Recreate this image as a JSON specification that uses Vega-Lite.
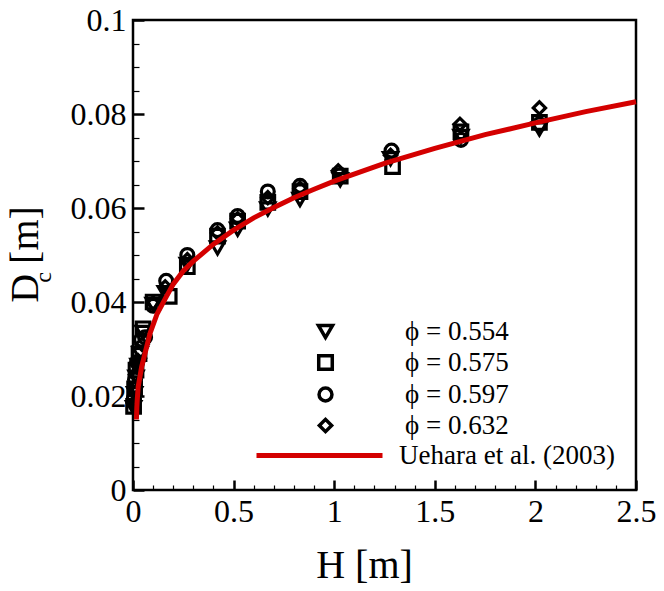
{
  "$schema": "https://vega.github.io/schema/vega-lite/v6.json",
  "width": 503,
  "height": 470,
  "autosize": {"type": "none"},
  "padding": {"left": 133, "top": 20, "right": 28, "bottom": 101},
  "background": "white",
  "config": {
    "font": "Liberation Serif",
    "view": {"stroke": "black", "strokeWidth": 2.5},
    "axis": {
      "labelFont": "Liberation Serif", "titleFont": "Liberation Serif",
      "labelColor": "black", "titleColor": "black",
      "labelFontWeight": "normal", "titleFontWeight": "normal",
      "grid": false, "domain": false, "tickColor": "black", "zindex": 2
    },
    "legend": {"labelFont": "Liberation Serif", "labelFontSize": 27, "labelColor": "black", "labelLimit": 0, "padding": 0}
  },
  "datasets": {
    "pts": [
      {"H": 0.003, "D": 0.0175, "phi": "ϕ = 0.554"},
      {"H": 0.008, "D": 0.0205, "phi": "ϕ = 0.554"},
      {"H": 0.015, "D": 0.024, "phi": "ϕ = 0.554"},
      {"H": 0.025, "D": 0.0265, "phi": "ϕ = 0.554"},
      {"H": 0.035, "D": 0.029, "phi": "ϕ = 0.554"},
      {"H": 0.05, "D": 0.0335, "phi": "ϕ = 0.554"},
      {"H": 0.1, "D": 0.0395, "phi": "ϕ = 0.554"},
      {"H": 0.16, "D": 0.042, "phi": "ϕ = 0.554"},
      {"H": 0.27, "D": 0.048, "phi": "ϕ = 0.554"},
      {"H": 0.42, "D": 0.0515, "phi": "ϕ = 0.554"},
      {"H": 0.52, "D": 0.0555, "phi": "ϕ = 0.554"},
      {"H": 0.67, "D": 0.0598, "phi": "ϕ = 0.554"},
      {"H": 0.83, "D": 0.0618, "phi": "ϕ = 0.554"},
      {"H": 1.03, "D": 0.066, "phi": "ϕ = 0.554"},
      {"H": 1.28, "D": 0.0705, "phi": "ϕ = 0.554"},
      {"H": 1.63, "D": 0.0752, "phi": "ϕ = 0.554"},
      {"H": 2.02, "D": 0.0768, "phi": "ϕ = 0.554"},
      {"H": 0.003, "D": 0.0178, "phi": "ϕ = 0.575"},
      {"H": 0.008, "D": 0.0215, "phi": "ϕ = 0.575"},
      {"H": 0.015, "D": 0.0255, "phi": "ϕ = 0.575"},
      {"H": 0.03, "D": 0.029, "phi": "ϕ = 0.575"},
      {"H": 0.05, "D": 0.0343, "phi": "ϕ = 0.575"},
      {"H": 0.1, "D": 0.04, "phi": "ϕ = 0.575"},
      {"H": 0.18, "D": 0.0412, "phi": "ϕ = 0.575"},
      {"H": 0.27, "D": 0.0475, "phi": "ϕ = 0.575"},
      {"H": 0.42, "D": 0.054, "phi": "ϕ = 0.575"},
      {"H": 0.52, "D": 0.0572, "phi": "ϕ = 0.575"},
      {"H": 0.67, "D": 0.0612, "phi": "ϕ = 0.575"},
      {"H": 0.83, "D": 0.0635, "phi": "ϕ = 0.575"},
      {"H": 1.03, "D": 0.0668, "phi": "ϕ = 0.575"},
      {"H": 1.29, "D": 0.0688, "phi": "ϕ = 0.575"},
      {"H": 1.63, "D": 0.0762, "phi": "ϕ = 0.575"},
      {"H": 2.02, "D": 0.0782, "phi": "ϕ = 0.575"},
      {"H": 0.004, "D": 0.0195, "phi": "ϕ = 0.597"},
      {"H": 0.01, "D": 0.0235, "phi": "ϕ = 0.597"},
      {"H": 0.02, "D": 0.0272, "phi": "ϕ = 0.597"},
      {"H": 0.04, "D": 0.032, "phi": "ϕ = 0.597"},
      {"H": 0.06, "D": 0.0325, "phi": "ϕ = 0.597"},
      {"H": 0.1, "D": 0.0392, "phi": "ϕ = 0.597"},
      {"H": 0.165, "D": 0.0445, "phi": "ϕ = 0.597"},
      {"H": 0.27, "D": 0.05, "phi": "ϕ = 0.597"},
      {"H": 0.42, "D": 0.0553, "phi": "ϕ = 0.597"},
      {"H": 0.52, "D": 0.0583, "phi": "ϕ = 0.597"},
      {"H": 0.67, "D": 0.0635, "phi": "ϕ = 0.597"},
      {"H": 0.83, "D": 0.0647, "phi": "ϕ = 0.597"},
      {"H": 1.03, "D": 0.067, "phi": "ϕ = 0.597"},
      {"H": 1.285, "D": 0.0722, "phi": "ϕ = 0.597"},
      {"H": 1.63, "D": 0.0745, "phi": "ϕ = 0.597"},
      {"H": 2.02, "D": 0.0778, "phi": "ϕ = 0.597"},
      {"H": 0.002, "D": 0.0185, "phi": "ϕ = 0.632"},
      {"H": 0.007, "D": 0.0218, "phi": "ϕ = 0.632"},
      {"H": 0.012, "D": 0.0245, "phi": "ϕ = 0.632"},
      {"H": 0.025, "D": 0.0275, "phi": "ϕ = 0.632"},
      {"H": 0.045, "D": 0.031, "phi": "ϕ = 0.632"},
      {"H": 0.1, "D": 0.0398, "phi": "ϕ = 0.632"},
      {"H": 0.16, "D": 0.0432, "phi": "ϕ = 0.632"},
      {"H": 0.27, "D": 0.049, "phi": "ϕ = 0.632"},
      {"H": 0.42, "D": 0.0547, "phi": "ϕ = 0.632"},
      {"H": 0.52, "D": 0.0577, "phi": "ϕ = 0.632"},
      {"H": 0.67, "D": 0.0622, "phi": "ϕ = 0.632"},
      {"H": 0.83, "D": 0.0642, "phi": "ϕ = 0.632"},
      {"H": 1.02, "D": 0.0679, "phi": "ϕ = 0.632"},
      {"H": 1.28, "D": 0.0712, "phi": "ϕ = 0.632"},
      {"H": 1.625, "D": 0.0778, "phi": "ϕ = 0.632"},
      {"H": 2.02, "D": 0.0813, "phi": "ϕ = 0.632"}
    ],
    "curve": [
      {"H": 0.017, "D": 0.015, "src": "Uehara et al. (2003)"},
      {"H": 0.019, "D": 0.0175, "src": "Uehara et al. (2003)"},
      {"H": 0.021, "D": 0.0191, "src": "Uehara et al. (2003)"},
      {"H": 0.026, "D": 0.022, "src": "Uehara et al. (2003)"},
      {"H": 0.043, "D": 0.0262, "src": "Uehara et al. (2003)"},
      {"H": 0.0845, "D": 0.0333, "src": "Uehara et al. (2003)"},
      {"H": 0.12, "D": 0.0375, "src": "Uehara et al. (2003)"},
      {"H": 0.159, "D": 0.0406, "src": "Uehara et al. (2003)"},
      {"H": 0.2, "D": 0.0438, "src": "Uehara et al. (2003)"},
      {"H": 0.25, "D": 0.0466, "src": "Uehara et al. (2003)"},
      {"H": 0.3, "D": 0.0487, "src": "Uehara et al. (2003)"},
      {"H": 0.4, "D": 0.0523, "src": "Uehara et al. (2003)"},
      {"H": 0.5, "D": 0.0553, "src": "Uehara et al. (2003)"},
      {"H": 0.6, "D": 0.0579, "src": "Uehara et al. (2003)"},
      {"H": 0.7, "D": 0.0601, "src": "Uehara et al. (2003)"},
      {"H": 0.8, "D": 0.0622, "src": "Uehara et al. (2003)"},
      {"H": 0.9, "D": 0.064, "src": "Uehara et al. (2003)"},
      {"H": 1.0, "D": 0.0657, "src": "Uehara et al. (2003)"},
      {"H": 1.25, "D": 0.0695, "src": "Uehara et al. (2003)"},
      {"H": 1.5, "D": 0.0727, "src": "Uehara et al. (2003)"},
      {"H": 1.75, "D": 0.0756, "src": "Uehara et al. (2003)"},
      {"H": 2.0, "D": 0.0781, "src": "Uehara et al. (2003)"},
      {"H": 2.25, "D": 0.0805, "src": "Uehara et al. (2003)"},
      {"H": 2.5, "D": 0.0826, "src": "Uehara et al. (2003)"}
    ]
  },
  "layer": [
    {
      "data": {"name": "pts"},
      "mark": {"type": "point", "filled": false, "strokeWidth": 3.2, "opacity": 1},
      "encoding": {
        "x": {
          "field": "H", "type": "quantitative",
          "scale": {"domain": [0, 2.5], "nice": false},
          "axis": {
            "orient": "bottom", "values": [0, 0.5, 1, 1.5, 2, 2.5], "format": "~g",
            "ticks": true, "tickSize": -10, "tickWidth": 2.5,
            "labelFontSize": 32, "labelPadding": 16,
            "labelFlush": false, "labelOverlap": false,
            "title": "H [m]", "titleFontSize": 40, "titleX": 231, "titleY": 87,
            "titleAlign": "center", "titleBaseline": "alphabetic"
          }
        },
        "y": {
          "field": "D", "type": "quantitative",
          "scale": {"domain": [0, 0.1], "nice": false},
          "axis": {
            "orient": "left", "values": [0, 0.02, 0.04, 0.06, 0.08, 0.1], "format": "~g",
            "ticks": true, "tickSize": -11, "tickWidth": 2.5,
            "labelFontSize": 32, "labelPadding": 18,
            "labelFlush": false, "labelOverlap": false,
            "title": "D   [m]", "titleFontSize": 40, "titleX": -96, "titleY": 234,
            "titleAngle": -90, "titleAlign": "center", "titleBaseline": "alphabetic"
          }
        },
        "shape": {
          "field": "phi", "type": "nominal",
          "scale": {"domain": ["ϕ = 0.554", "ϕ = 0.575", "ϕ = 0.597", "ϕ = 0.632"], "range": ["triangle-down", "square", "circle", "diamond"]},
          "legend": {"orient": "none", "legendX": 179, "legendY": 298, "title": null, "labelOffset": 66, "rowPadding": 3, "symbolStrokeWidth": 3.5, "symbolStrokeColor": "black", "labelFontSize": 27}
        },
        "size": {
          "field": "phi", "type": "nominal",
          "scale": {"domain": ["ϕ = 0.554", "ϕ = 0.575", "ϕ = 0.597", "ϕ = 0.632"], "range": [200, 150, 240, 250]}
        },
        "color": {"value": "black"}
      }
    },
    {
      "data": {"name": "curve"},
      "mark": {"type": "line", "strokeWidth": 5},
      "encoding": {
        "x": {
          "field": "H", "type": "quantitative",
          "axis": {
            "orient": "bottom", "labels": false, "title": null, "ticks": true,
            "values": [0.1, 0.2, 0.3, 0.4, 0.6, 0.7, 0.8, 0.9, 1.1, 1.2, 1.3, 1.4, 1.6, 1.7, 1.8, 1.9, 2.1, 2.2, 2.3, 2.4],
            "tickSize": -5, "tickWidth": 1.2
          }
        },
        "y": {
          "field": "D", "type": "quantitative",
          "axis": {
            "orient": "left", "labels": false, "title": null, "ticks": true,
            "values": [0.005, 0.01, 0.015, 0.025, 0.03, 0.035, 0.045, 0.05, 0.055, 0.065, 0.07, 0.075, 0.085, 0.09, 0.095],
            "tickSize": -6, "tickWidth": 1.2
          }
        },
        "color": {
          "field": "src", "type": "nominal",
          "scale": {"range": ["#d40000"]},
          "legend": {"orient": "none", "legendX": 121, "legendY": 370, "title": null, "symbolType": "stroke", "symbolSize": 15876, "symbolStrokeWidth": 5, "labelOffset": 14, "labelFontSize": 27}
        }
      }
    },
    {
      "data": {"name": "curve"},
      "mark": {"type": "point", "opacity": 0},
      "encoding": {
        "x": {"field": "H", "type": "quantitative", "axis": null},
        "y": {
          "field": "D", "type": "quantitative",
          "axis": {
            "orient": "left", "labels": false, "ticks": false, "domain": false,
            "title": "c", "titleFontSize": 24, "titleX": -83, "titleY": 257,
            "titleAngle": -90, "titleAlign": "center", "titleBaseline": "alphabetic"
          }
        }
      }
    }
  ],
  "resolve": {"axis": {"x": "independent", "y": "independent"}}
}
